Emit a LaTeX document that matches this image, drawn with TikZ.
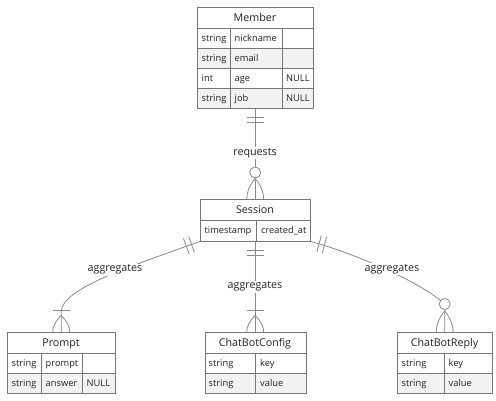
\documentclass[tikz,border=0pt]{standalone}
\usepackage{fontspec}
\setmainfont{Open Sans}
\usetikzlibrary{calc}
\definecolor{bcol}{HTML}{777777}
\definecolor{lcol}{HTML}{8A8A8A}
\definecolor{rowgray}{HTML}{F2F2F2}
\definecolor{tcol}{HTML}{222222}
\tikzset{
  rel/.style={draw=lcol, line width=0.8pt},
  lbl/.style={fill=white, inner sep=1pt, text=tcol, font=\fontsize{10.7}{12}\selectfont},
  hdr/.style={text=tcol, anchor=base, inner sep=0pt, font=\fontsize{10.7}{12}\selectfont},
  attr/.style={text=tcol, anchor=base west, inner sep=0pt, font=\fontsize{9.3}{11}\selectfont},
  ent/.style={draw=bcol, line width=0.8pt, inner sep=0pt, anchor=north west},
  gridl/.style={draw=bcol, line width=0.8pt},
  crowfoot/.pic={
    \draw[rel] (0,-#1) .. controls (-5.67,{-2*#1/3}) and (-8.5,{-#1/3}) .. (-8.5,0);
    \draw[rel] (0,-#1) .. controls (5.67,{-2*#1/3}) and (8.5,{-#1/3}) .. (8.5,0);
  },
}
\begin{document}
\begin{tikzpicture}[x=1pt,y=-1pt]
\useasboundingbox (0,0) rectangle (496,401);
\fill[white] (0,0) rectangle (496,401);

% entity placeholders (positions of the boxes, drawn later on top)
\path (197,7) node[anchor=north west, inner sep=0pt, minimum width=116pt, minimum height=101pt] (member) {};
\path (200,199) node[anchor=north west, inner sep=0pt, minimum width=110pt, minimum height=42pt] (session) {};
\path (7,332) node[anchor=north west, inner sep=0pt, minimum width=108pt, minimum height=61pt] (prompt) {};
\path (204.5,332) node[anchor=north west, inner sep=0pt, minimum width=101pt, minimum height=61pt] (config) {};
\path (397,332) node[anchor=north west, inner sep=0pt, minimum width=95pt, minimum height=61pt] (reply) {};

% ---------- Member -- Session ----------
\draw[rel] (member.south) -- (session.north);
\draw[rel] ($(member.south)+(-8.5,9)$) -- ($(member.south)+(8.5,9)$);
\draw[rel] ($(member.south)+(-8.5,14.5)$) -- ($(member.south)+(8.5,14.5)$);
\node[lbl] (lreq) at (255,153) {requests};
\draw[rel, fill=white] ($(session.north)+(0,-26.5)$) circle[radius=5.5];
\pic (cfa) at (session.north) {crowfoot=20.5};

% ---------- Session -- ChatBotConfig ----------
\draw[rel] (session.south) -- (config.north);
\draw[rel] ($(session.south)+(-8.5,9)$) -- ($(session.south)+(8.5,9)$);
\draw[rel] ($(session.south)+(-8.5,14.5)$) -- ($(session.south)+(8.5,14.5)$);
\node[lbl] (lcfg) at (255,286.7) {aggregates};
\draw[rel] ($(config.north)+(-8.5,-21.3)$) -- ($(config.north)+(8.5,-21.3)$);
\pic (cfb) at (config.north) {crowfoot=16.5};

% ---------- Session -- Prompt ----------
\coordinate (pc1) at (135,265);
\coordinate (pc2) at (61,288);
\coordinate (pe) at ($(prompt.north)+(0,-20)$);
\draw[rel] (session.south west) .. controls (pc1) and (pc2) .. (pe) -- (prompt.north);
\coordinate (pb1) at ($(session.south west)!9pt!(pc1)$);
\coordinate (pb2) at ($(session.south west)!14.5pt!(pc1)$);
\draw[rel] ($(pb1)!8.5pt!90:(pc1)$) -- ($(pb1)!8.5pt!-90:(pc1)$);
\draw[rel] ($(pb2)!8.5pt!90:(pc1)$) -- ($(pb2)!8.5pt!-90:(pc1)$);
\node[lbl] (lpr) at (115,269.7) {aggregates};
\draw[rel] ($(prompt.north)+(-8.5,-22)$) -- ($(prompt.north)+(8.5,-22)$);
\pic (cfc) at (prompt.north) {crowfoot=16.5};

% ---------- Session -- ChatBotReply ----------
\coordinate (rc1) at (350,252);
\coordinate (rc2) at (418,280);
\coordinate (rcc) at ($(reply.north)+(0,-28)$);
\draw[rel] (session.south east) .. controls (rc1) and (rc2) .. (rcc) -- (reply.north);
\coordinate (rb1) at ($(session.south east)!9pt!(rc1)$);
\coordinate (rb2) at ($(session.south east)!14.5pt!(rc1)$);
\draw[rel] ($(rb1)!8.5pt!90:(rc1)$) -- ($(rb1)!8.5pt!-90:(rc1)$);
\draw[rel] ($(rb2)!8.5pt!90:(rc1)$) -- ($(rb2)!8.5pt!-90:(rc1)$);
\node[lbl] (lrp) at (392,269) {aggregates};
\draw[rel, fill=white] (rcc) circle[radius=5.5];
\pic (cfd) at (reply.north) {crowfoot=21};

% ---------- Member box ----------
\fill[white] (197,7) rectangle (313,48);
\fill[rowgray] (197,48) rectangle (313,68);
\fill[white] (197,68) rectangle (313,88);
\fill[rowgray] (197,88) rectangle (313,108);
\draw[gridl] (197,28)--(313,28) (197,48)--(313,48) (197,68)--(313,68) (197,88)--(313,88)
  (230,28)--(230,108) (282,28)--(282,108);
\node[ent, minimum width=116pt, minimum height=101pt] (memberbox) at (197,7) {};
\node[hdr] (memT) at (255,21.3) {Member};
\node[attr] (m1a) at (201.5,41.3) {string};
\node[attr] (m1b) at (234.5,41.3) {nickname};
\node[attr] (m2a) at (201.5,61.3) {string};
\node[attr] (m2b) at (234.5,61.3) {email};
\node[attr] (m3a) at (201.5,81.3) {int};
\node[attr] (m3b) at (234.5,81.3) {age};
\node[attr] (m3c) at (286,81.3) {NULL};
\node[attr] (m4a) at (201.5,101.3) {string};
\node[attr] (m4b) at (234.5,101.3) {job};
\node[attr] (m4c) at (286,101.3) {NULL};

% ---------- Session box ----------
\fill[white] (200,199) rectangle (310,241);
\draw[gridl] (200,220)--(310,220) (256.7,220)--(256.7,241);
\node[ent, minimum width=110pt, minimum height=42pt] (sessionbox) at (200,199) {};
\node[hdr] (sesT) at (255,213.3) {Session};
\node[attr] (s1a) at (204.5,233.8) {timestamp};
\node[attr] (s1b) at (261,233.8) {created\_at};

% ---------- Prompt box ----------
\fill[white] (7,332) rectangle (115,373);
\fill[rowgray] (7,373) rectangle (115,393);
\draw[gridl] (7,353)--(115,353) (7,373)--(115,373) (41,353)--(41,393) (82,353)--(82,393);
\node[ent, minimum width=108pt, minimum height=61pt] (promptbox) at (7,332) {};
\node[hdr] (prT) at (61,346.3) {Prompt};
\node[attr] (p1a) at (11.5,366.3) {string};
\node[attr] (p1b) at (45.5,366.3) {prompt};
\node[attr] (p2a) at (11.5,386.3) {string};
\node[attr] (p2b) at (45.5,386.3) {answer};
\node[attr] (p2c) at (86.5,386.3) {NULL};

% ---------- ChatBotConfig box ----------
\fill[white] (204.5,332) rectangle (305.5,373);
\fill[rowgray] (204.5,373) rectangle (305.5,393);
\draw[gridl] (204.5,353)--(305.5,353) (204.5,373)--(305.5,373) (255.5,353)--(255.5,393);
\node[ent, minimum width=101pt, minimum height=61pt] (configbox) at (204.5,332) {};
\node[hdr] (cfT) at (255,346.3) {ChatBotConfig};
\node[attr] (c1a) at (208.5,366.3) {string};
\node[attr] (c1b) at (260,366.3) {key};
\node[attr] (c2a) at (208.5,386.3) {string};
\node[attr] (c2b) at (260,386.3) {value};

% ---------- ChatBotReply box ----------
\fill[white] (397,332) rectangle (492,373);
\fill[rowgray] (397,373) rectangle (492,393);
\draw[gridl] (397,353)--(492,353) (397,373)--(492,373) (444,353)--(444,393);
\node[ent, minimum width=95pt, minimum height=61pt] (replybox) at (397,332) {};
\node[hdr] (rpT) at (444.5,346.3) {ChatBotReply};
\node[attr] (r1a) at (401.5,366.3) {string};
\node[attr] (r1b) at (448.5,366.3) {key};
\node[attr] (r2a) at (401.5,386.3) {string};
\node[attr] (r2b) at (448.5,386.3) {value};
\end{tikzpicture}
\end{document}
